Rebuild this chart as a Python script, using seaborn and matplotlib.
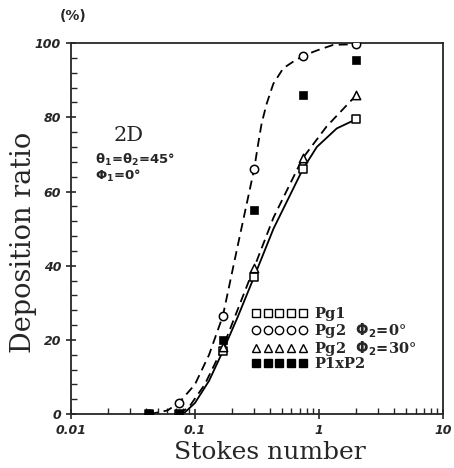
import numpy as np
import pandas as pd
import matplotlib
matplotlib.use("Agg")
import matplotlib.pyplot as plt
import seaborn as sns
from matplotlib.lines import Line2D
from matplotlib.ticker import MultipleLocator

# measured points
stokes = [0.043, 0.074, 0.168, 0.3, 0.74, 2.0]
pg1 = [0, 0, 17, 37, 66, 79.5]
pg2_phi0 = [0, 3, 26.5, 66, 96.5, 99.7]
pg2_phi30 = [0, 0, 18, 39.5, 69, 86]
p1xp2 = [0, 0, 20, 55, 86, 95.5]

# fitted curves
curve_phi0_x = [0.043, 0.06, 0.074, 0.1, 0.13, 0.168, 0.22, 0.3, 0.324, 0.345, 0.379, 0.428, 0.515, 0.62, 0.74, 0.96, 1.3, 2.0]
curve_phi0_y = [0, 1, 3, 8, 16, 26.5, 45, 66, 73, 78.4, 83.7, 89, 93.2, 95, 96.5, 98, 99.5, 99.7]
curve_phi30_x = [0.074, 0.09, 0.12, 0.168, 0.22, 0.3, 0.43, 0.74, 1.15, 2.0]
curve_phi30_y = [0, 2, 8, 18, 28, 39.5, 53, 69, 77.5, 86]
curve_pg1_x = [0.08, 0.1, 0.13, 0.168, 0.22, 0.3, 0.43, 0.74, 0.96, 1.39, 2.0]
curve_pg1_y = [0, 3, 9, 17, 26, 37, 50, 66, 72, 77, 79.5]

sns.set_style("ticks")
plt.rcParams['font.family'] = ['DejaVu Sans']

fig = plt.figure(figsize=(4.54, 4.68), dpi=100)
ax = fig.add_axes([0.156, 0.115, 0.82, 0.793])

sns.lineplot(x=curve_phi0_x, y=curve_phi0_y, ax=ax, color='black', lw=1.3, linestyle=(0, (5, 3)))
sns.lineplot(x=curve_phi30_x, y=curve_phi30_y, ax=ax, color='black', lw=1.3, linestyle=(0, (5, 3)))
sns.lineplot(x=curve_pg1_x, y=curve_pg1_y, ax=ax, color='black', lw=1.3)

ms = 36
sns.scatterplot(x=stokes, y=pg1, ax=ax, marker='s', s=ms, facecolor='white', edgecolor='black', linewidth=1.1, zorder=3)
sns.scatterplot(x=stokes, y=pg2_phi0, ax=ax, marker='o', s=ms, facecolor='white', edgecolor='black', linewidth=1.1, zorder=3)
sns.scatterplot(x=stokes, y=pg2_phi30, ax=ax, marker='^', s=ms, facecolor='white', edgecolor='black', linewidth=1.1, zorder=3)
sns.scatterplot(x=stokes, y=p1xp2, ax=ax, marker='s', s=ms, color='black', edgecolor='black', zorder=4)

ax.set_xscale('log')
ax.set_xlim(0.01, 10)
ax.set_ylim(0, 100)
ax.set_xticks([0.01, 0.1, 1, 10])
ax.set_xticklabels(['0.01', '0.1', '1', '10'])
ax.set_yticks([0, 20, 40, 60, 80, 100])
ax.yaxis.set_minor_locator(MultipleLocator(4))
for lab in ax.get_xticklabels() + ax.get_yticklabels():
    lab.set_fontweight('bold')
    lab.set_fontstyle('italic')
    lab.set_fontsize(9)
ax.tick_params(which='major', direction='inout', length=7, width=1.2)
ax.tick_params(which='minor', direction='in', length=4, width=1)
for sp in ax.spines.values():
    sp.set_linewidth(1.3)
    sp.set_visible(True)

ax.set_xlabel('Stokes number', family='DejaVu Serif', fontsize=18)
ax.set_ylabel('Deposition ratio', family='DejaVu Serif', fontsize=19.5)
ax.xaxis.set_label_coords(0.535, -0.072, transform=ax.transAxes)
ax.xaxis.label.set_va('top')
ax.yaxis.set_label_coords(-0.092, 0.464, transform=ax.transAxes)

fig.text(0.16, 0.965, '(%)', fontsize=10, fontweight='bold', ha='center', va='center')
ax.text(0.022, 73.5, '2D', family='DejaVu Serif', fontsize=15)
ax.text(0.0158, 67.5, r'$\mathbf{\theta_1}$=$\mathbf{\theta_2}$=45°', fontsize=9.5, fontweight='bold')
ax.text(0.0158, 63.2, r'$\mathbf{\Phi_1}$=0°', fontsize=9.5, fontweight='bold')

handles = [
    Line2D([], [], marker='s', ls='none', mfc='white', mec='black', ms=6),
    Line2D([], [], marker='o', ls='none', mfc='white', mec='black', ms=6),
    Line2D([], [], marker='^', ls='none', mfc='white', mec='black', ms=6),
    Line2D([], [], marker='s', ls='none', mfc='black', mec='black', ms=6),
]
labels = ['Pg1', r'Pg2  $\mathbf{\Phi_2}$=0°', r'Pg2  $\mathbf{\Phi_2}$=30°', 'P1xP2']
leg = ax.legend(handles, labels, loc='lower left', bbox_to_anchor=(0.47, 0.1), frameon=False,
                numpoints=5, handlelength=3.8, handletextpad=0.5, labelspacing=-0.05,
                prop={'family': 'DejaVu Serif', 'size': 10.5, 'weight': 'bold'}, borderaxespad=0)

fig.savefig('out.png', dpi=100)
